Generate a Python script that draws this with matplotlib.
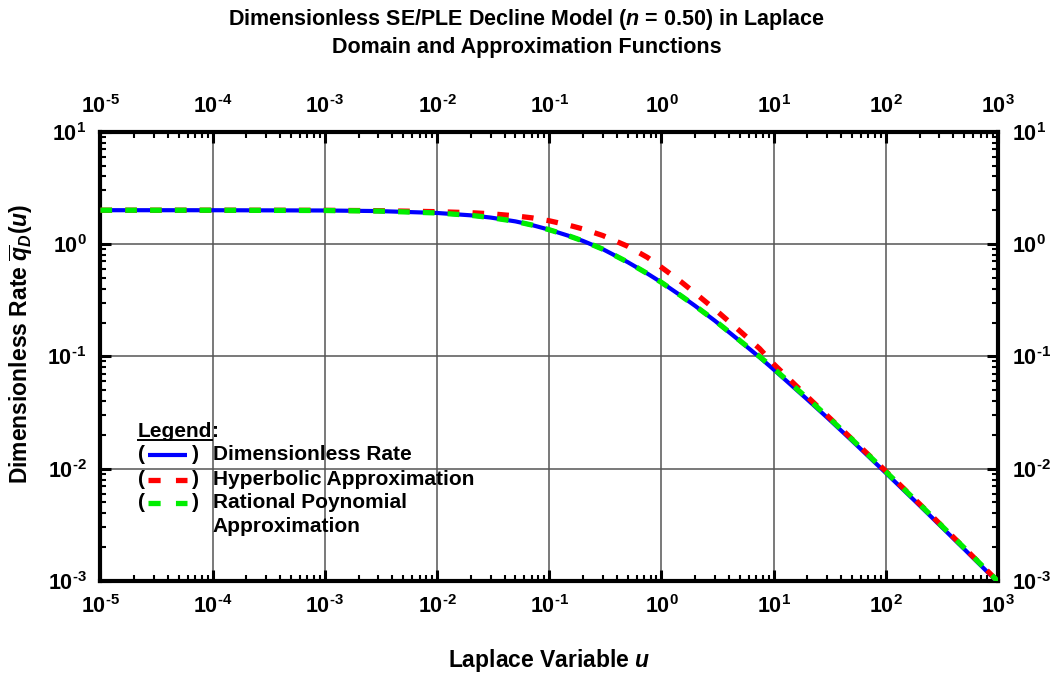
import numpy as np
import matplotlib
matplotlib.use('Agg')
import matplotlib.pyplot as plt
from matplotlib.ticker import FixedLocator, LogLocator, FuncFormatter, NullFormatter

# Laplace variable and the three curves
u = [1e-5, 1e-4, 1e-3, 3e-3, 1e-2, 2e-2, 3e-2, 5e-2, 0.07, 0.1, 0.15, 0.2,
     0.3, 0.5, 0.75, 1.0, 1.5, 2.0, 3.0, 5.0, 7.5, 10.0, 20.0, 30.0, 50.0,
     100.0, 200.0, 500.0, 1000.0]
q_rate = [2.00, 1.999, 1.988, 1.965, 1.89, 1.80, 1.72, 1.59, 1.476, 1.34,
          1.18, 1.065, 0.90, 0.69, 0.545, 0.455, 0.345, 0.281, 0.207, 0.137,
          0.098, 0.0764, 0.0412, 0.0285, 0.0177, 0.00916, 0.0047, 0.00192,
          0.00097]
q_hyp = [2.00, 2.00, 1.995, 1.98, 1.94, 1.90, 1.86, 1.78, 1.71, 1.61, 1.47,
         1.36, 1.19, 0.955, 0.76, 0.62, 0.46, 0.365, 0.262, 0.168, 0.117,
         0.0855, 0.0437, 0.0297, 0.0183, 0.0095, 0.00485, 0.00197, 0.00099]
q_rat = [2.00, 1.999, 1.988, 1.965, 1.89, 1.80, 1.72, 1.59, 1.476, 1.34,
         1.18, 1.065, 0.90, 0.69, 0.545, 0.455, 0.345, 0.281, 0.208, 0.138,
         0.0995, 0.078, 0.0423, 0.0293, 0.0182, 0.0094, 0.00482, 0.00197,
         0.00099]

decades = [1e-5, 1e-4, 1e-3, 1e-2, 1e-1, 1e0, 1e1, 1e2, 1e3]
y_decades = [1e-3, 1e-2, 1e-1, 1e0, 1e1]

legend_labels = ['Dimensionless Rate', 'Hyperbolic Approximation',
                 'Rational Poynomial', 'Approximation']

plt.rcParams['font.family'] = 'Liberation Sans'
plt.rcParams['font.weight'] = 'bold'
plt.rcParams['mathtext.fontset'] = 'custom'
plt.rcParams['mathtext.rm'] = 'Liberation Sans:bold'
plt.rcParams['mathtext.it'] = 'Liberation Sans:italic:bold'
plt.rcParams['mathtext.bf'] = 'Liberation Sans:bold'

fig = plt.figure(figsize=(10.53, 6.75), dpi=100)
ax = fig.add_axes([0.0954, 0.1393, 0.8524, 0.6656])

dash = (2.2, 2.5)
ax.plot(u, q_rate, color='#0000ff', lw=3.0, solid_capstyle='butt', zorder=3)
ax.plot(u, q_hyp, color='#ff0000', lw=3.8, dashes=dash, zorder=4)
ax.plot(u, q_rat, color='#00ee00', lw=3.8, dashes=dash, zorder=5)

ax.set_xscale('log')
ax.set_yscale('log')
ax.set_xlim(1e-5, 1e3)
ax.set_ylim(1e-3, 1e1)


def decade_label(v, pos):
    e = int(round(np.log10(v)))
    sign = '\u2010' if e < 0 else ''
    return r'$\mathrm{10^{%s%d}}$' % (sign, abs(e))


fmt = FuncFormatter(decade_label)
ax.xaxis.set_major_locator(FixedLocator(decades))
ax.yaxis.set_major_locator(FixedLocator(y_decades))
for axis in (ax.xaxis, ax.yaxis):
    axis.set_minor_locator(LogLocator(base=10, subs=np.arange(2, 10), numticks=20))
    axis.set_major_formatter(fmt)
    axis.set_minor_formatter(NullFormatter())

ax.tick_params(which='both', direction='in', top=True, right=True,
               labeltop=True, labelright=True, labelsize=15.5)
ax.tick_params(which='major', length=8, width=2.2, pad=10)
ax.tick_params(axis='y', which='major', pad=10)
ax.tick_params(which='minor', length=4.5, width=1.5)
for s in ax.spines.values():
    s.set_linewidth(3)

ax.grid(which='major', color='#555555', lw=1.1)
ax.set_axisbelow(True)

# hand-built legend block
fs = 15
tr = ax.transAxes
leg = ax.text(0.0418, 0.332, 'Legend', transform=tr, fontsize=fs,
              va='center', ha='left')
colon = ax.text(0.0418, 0.332, ':', transform=tr, fontsize=fs,
                va='center', ha='left')
rows = [0.2804, 0.2248, 0.1736, 0.1209]
styles = [dict(color='#0000ff', lw=3.0, solid_capstyle='butt'),
          dict(color='#ff0000', lw=3.8, dashes=(2.3, 2.9)),
          dict(color='#00ee00', lw=3.8, dashes=(2.3, 2.9))]
for y, st in zip(rows[:3], styles):
    ax.text(0.0418, y, '(', transform=tr, fontsize=fs, va='center', ha='left')
    ax.plot([0.0530, 0.0964], [y, y], transform=tr, clip_on=False, **st)
    ax.text(0.1020, y, ')', transform=tr, fontsize=fs, va='center', ha='left')
for y, lab in zip(rows, legend_labels):
    ax.text(0.1253, y, lab, transform=tr, fontsize=fs, va='center', ha='left')

fig.canvas.draw()
bb = leg.get_window_extent().transformed(tr.inverted())
colon.set_x(bb.x1)
ax.plot([bb.x0, bb.x1], [bb.y0 + 0.004, bb.y0 + 0.004], transform=tr,
        color='black', lw=1.4, clip_on=False)

fig.text(0.5, 1 - 20 / 675,
         'Dimensionless SE/PLE Decline Model ($n$ = 0.50) in Laplace',
         ha='center', va='center', fontsize=15.5)
fig.text(0.5, 1 - 47 / 675, 'Domain and Approximation Functions',
         ha='center', va='center', fontsize=15.5)
fig.text(549 / 1053, 1 - 660 / 675, 'Laplace Variable $u$', ha='center',
         va='center', fontsize=16.5)
fig.text(21 / 1053, 1 - 344 / 675, r'Dimensionless Rate $\overline{q}_D(u)$',
         ha='center', va='center', rotation=90, fontsize=16.5)

fig.savefig('out.png', dpi=100)
